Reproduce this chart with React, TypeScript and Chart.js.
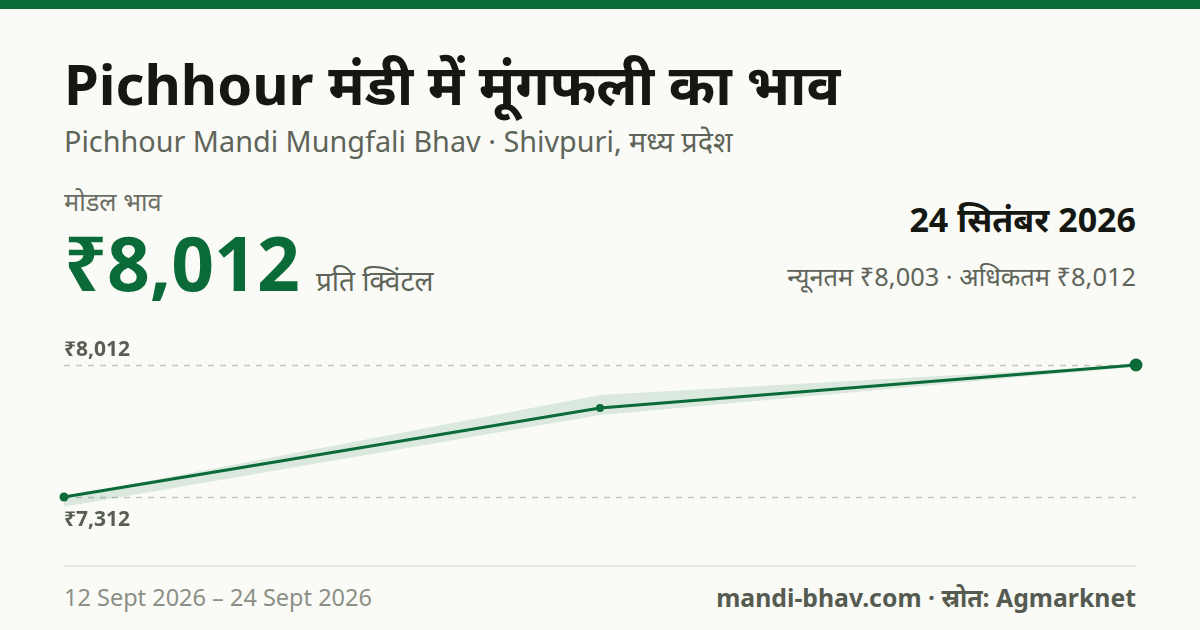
import { useEffect, useRef } from 'react'
import { Chart, ChartConfiguration, Plugin, registerables } from 'chart.js'

Chart.register(...registerables)

// price series (₹ per quintal)
const dates = ['12 Sept 2026', '18 Sept 2026', '24 Sept 2026']
const modalPrice = [7312, 7784, 8012]
const minPrice = [7260, 7747, 8003]
const maxPrice = [7312, 7853, 8012]
const guideValues = [8012, 7312]
const guideLabels = ['₹8,012', '₹7,312']

const GREEN = '#0b6b38'
const FONT = '"Noto Sans", "Noto Sans Devanagari", sans-serif'

// dashed reference lines at the highest / lowest modal price
const guidesPlugin: Plugin = {
  id: 'guides',
  beforeDatasetsDraw(chart) {
    const { ctx, chartArea, scales } = chart
    const y = scales.y
    ctx.save()
    guideValues.forEach((v, i) => {
      const py = Math.round(y.getPixelForValue(v)) + 0.5
      ctx.strokeStyle = '#c4c5bf'
      ctx.lineWidth = 1.5
      ctx.setLineDash([6, 6])
      ctx.beginPath()
      ctx.moveTo(chartArea.left, py)
      ctx.lineTo(chartArea.right, py)
      ctx.stroke()
      ctx.setLineDash([])
      ctx.fillStyle = '#595e53'
      ctx.font = `bold 21px ${FONT}`
      ctx.textAlign = 'left'
      ctx.textBaseline = 'alphabetic'
      ctx.fillText(guideLabels[i], chartArea.left, i === 0 ? py - 10 : py + 28)
    })
    ctx.restore()
  },
}

const PriceChart = () => {
  const canvasRef = useRef<HTMLCanvasElement>(null)
  const chartRef = useRef<Chart | null>(null)

  useEffect(() => {
    if (!canvasRef.current) return
    const ctx = canvasRef.current.getContext('2d')
    if (!ctx) return
    if (chartRef.current) chartRef.current.destroy()

    const config: ChartConfiguration = {
      type: 'line',
      data: {
        labels: dates,
        datasets: [
          {
            label: 'max',
            data: maxPrice,
            borderWidth: 0,
            pointRadius: 0,
            fill: '+1',
            backgroundColor: 'rgba(11,107,56,0.13)',
            order: 2,
          },
          {
            label: 'min',
            data: minPrice,
            borderWidth: 0,
            pointRadius: 0,
            fill: false,
            order: 3,
          },
          {
            label: 'modal',
            data: modalPrice,
            borderColor: GREEN,
            borderWidth: 3.2,
            backgroundColor: GREEN,
            pointBackgroundColor: GREEN,
            pointBorderWidth: 0,
            pointRadius: [4.5, 4, 6.5],
            fill: false,
            clip: false,
            order: 1,
          },
        ],
      },
      options: {
        animation: false,
        responsive: true,
        maintainAspectRatio: false,
        layout: { padding: { left: 64, right: 64, top: 28.4, bottom: 31.9 } },
        plugins: {
          legend: { display: false },
          tooltip: { enabled: false },
        },
        scales: {
          x: { display: false },
          y: { display: false, min: 7200, max: 8100 },
        },
      },
      plugins: [guidesPlugin],
    }

    chartRef.current = new Chart(ctx, config)
    return () => {
      if (chartRef.current) {
        chartRef.current.destroy()
        chartRef.current = null
      }
    }
  }, [])

  return (
    <div style={{ position: 'absolute', left: 0, top: 320, width: 1200, height: 230 }}>
      <canvas ref={canvasRef}></canvas>
    </div>
  )
}

const App = () => {
  const abs = (top: number, size: number, extra: React.CSSProperties = {}): React.CSSProperties => ({
    position: 'absolute',
    top,
    fontSize: size,
    lineHeight: 1,
    whiteSpace: 'nowrap',
    ...extra,
  })

  return (
    <div
      style={{
        position: 'absolute',
        left: 0,
        top: 0,
        width: 1200,
        height: 630,
        background: '#fafbf6',
        fontFamily: FONT,
        overflow: 'hidden',
      }}
    >
      <div style={{ position: 'absolute', left: 0, top: 0, width: 1200, height: 9, background: GREEN }} />

      <div style={abs(55, 56, { left: 64, fontWeight: 700, color: '#141712' })}>
        Pichhour मंडी में मूंगफली का भाव
      </div>
      <div style={abs(127, 28.8, { left: 64, color: '#5f645a' })}>
        Pichhour Mandi Mungfali Bhav · Shivpuri, मध्य प्रदेश
      </div>

      <div style={abs(189, 25.4, { left: 64, color: '#6a6e65' })}>मोडल भाव</div>
      <div
        style={{
          position: 'absolute',
          left: 64,
          top: 225,
          display: 'flex',
          alignItems: 'baseline',
          gap: 16,
          lineHeight: 1,
          whiteSpace: 'nowrap',
        }}
      >
        <span style={{ fontSize: 75, fontWeight: 700, color: GREEN }}>₹8,012</span>
        <span style={{ fontSize: 28, color: '#5f645a' }}>प्रति क्विंटल</span>
      </div>

      <div style={abs(202, 34, { right: 64, fontWeight: 700, color: '#141712' })}>24 सितंबर 2026</div>
      <div style={abs(264, 25.4, { right: 64, color: '#5f645a' })}>न्यूनतम ₹8,003 · अधिकतम ₹8,012</div>

      <PriceChart />

      <div style={{ position: 'absolute', left: 64, top: 565, width: 1072, height: 2, background: '#e4e6de' }} />
      <div style={abs(586, 23.5, { left: 64, color: '#8b8f86' })}>12 Sept 2026 – 24 Sept 2026</div>
      <div style={abs(585, 24.8, { right: 64, fontWeight: 700, color: '#565b51' })}>
        mandi-bhav.com · स्रोत: Agmarknet
      </div>
    </div>
  )
}

export default App
